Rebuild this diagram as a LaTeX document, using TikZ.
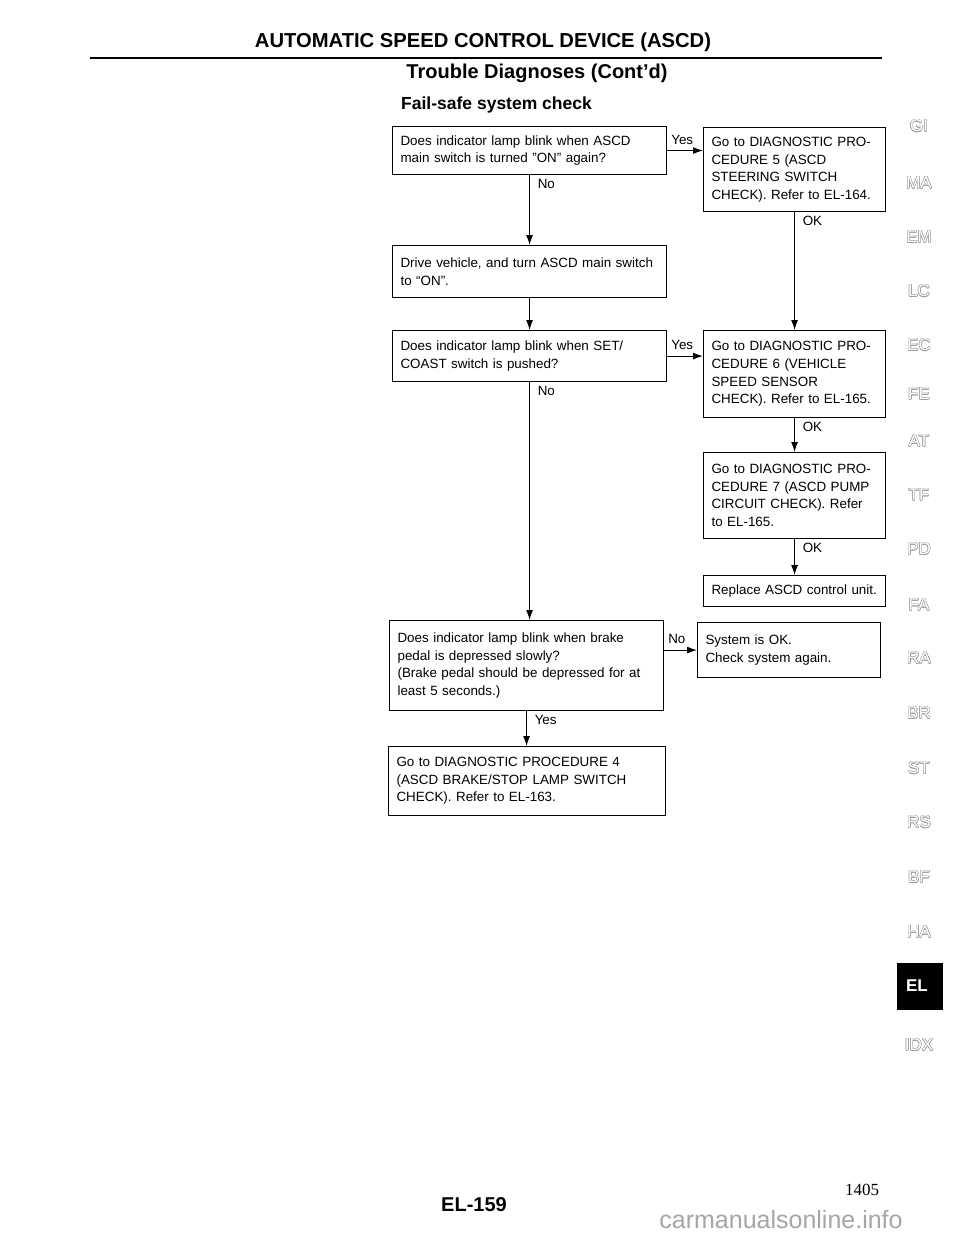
\documentclass[tikz,border=0pt]{standalone}
\usepackage{fontspec}
\setmainfont{Liberation Sans}
\newfontfamily\serifnum{Liberation Serif}
\usepackage[copies]{contour}
\contourlength{0.45pt}
\usetikzlibrary{arrows.meta}
\newcommand{\tabtxt}[1]{{\color{white}\contour{gray!75}{#1}}}
\begin{document}
\begin{tikzpicture}[x=1pt,y=-1pt,
  box/.style={draw, line width=1.1pt, inner xsep=8pt, inner ysep=2pt, align=left, anchor=north west,
    font=\fontsize{13.4}{17.6}\selectfont},
  lbl/.style={font=\fontsize{13.4}{15}\selectfont, inner sep=1pt},
  arr/.style={line width=1.1pt, -{Latex[length=10pt,width=7pt]}},
  tab/.style={font=\fontsize{17}{17}\selectfont, inner sep=0pt}
]
\useasboundingbox (0,0) rectangle (960,1242);
\fill[white] (0,0) rectangle (960,1242);

% header
\node[font=\fontsize{20.2}{22}\selectfont\bfseries, inner sep=0pt] (title) at (483,42) {AUTOMATIC SPEED CONTROL DEVICE (ASCD)};
\coordinate (ruleL) at (90,58);
\coordinate (ruleR) at (882,58);
\draw[line width=2.6pt] (ruleL) -- (ruleR);
\node[font=\fontsize{20}{22}\selectfont\bfseries, inner sep=0pt] (sub) at (537,73) {Trouble Diagnoses (Cont'd)};
\node[font=\fontsize{17.5}{20}\selectfont\bfseries, inner sep=0pt, anchor=west] (fs) at (401,105) {Fail-safe system check};

% boxes
\node[box, text width=258pt, minimum height=48pt] (b1) at (392,126)
  {Does indicator lamp blink when ASCD\\main switch is turned "ON" again?};
\node[box, text width=166pt, minimum height=84pt] (b2) at (703,127)
  {Go to DIAGNOSTIC PRO-\\CEDURE 5 (ASCD\\STEERING SWITCH\\CHECK). Refer to EL-164.};
\node[box, text width=258pt, minimum height=52pt] (b3) at (392,245)
  {Drive vehicle, and turn ASCD main switch\\to “ON”.};
\node[box, text width=258pt, minimum height=51pt] (b4) at (392,330)
  {Does indicator lamp blink when SET/\\COAST switch is pushed?};
\node[box, text width=166pt, minimum height=87pt] (b5) at (703,330)
  {Go to DIAGNOSTIC PRO-\\CEDURE 6 (VEHICLE\\SPEED SENSOR\\CHECK). Refer to EL-165.};
\node[box, text width=166pt, minimum height=86pt] (b6) at (703,452)
  {Go to DIAGNOSTIC PRO-\\CEDURE 7 (ASCD PUMP\\CIRCUIT CHECK). Refer\\to EL-165.};
\node[box, text width=166pt, minimum height=31pt] (b7) at (703,575)
  {Replace ASCD control unit.};
\node[box, text width=258pt, minimum height=90pt] (b8) at (389,620)
  {Does indicator lamp blink when brake\\pedal is depressed slowly?\\(Brake pedal should be depressed for at\\least 5 seconds.)};
\node[box, text width=167pt, minimum height=55pt] (b9) at (697,622)
  {System is OK.\\Check system again.};
\node[box, text width=261pt, minimum height=69pt] (b10) at (388,746)
  {Go to DIAGNOSTIC PROCEDURE 4\\(ASCD BRAKE/STOP LAMP SWITCH\\CHECK). Refer to EL-163.};

% connectors
\draw[arr] (b1.east) -- (b2.west |- b1.east);
\draw[arr] (b1.south) -- (b3.north);
\draw[arr] (b3.south) -- (b4.north);
\draw[arr] (b4.east) -- (b5.west |- b4.east);
\draw[arr] (b2.south) -- (b5.north);
\draw[arr] (b5.south) -- (b6.north);
\draw[arr] (b6.south) -- (b7.north);
\draw[arr] (b4.south) -- (b4.south |- b8.north);
\draw[arr] (b8.east |- b9.west) -- (b9.west);
\draw[arr] (b8.south) -- (b8.south |- b10.north);

% connector labels
\node[lbl, anchor=south west] (l1) at ([xshift=3pt,yshift=5pt]b1.east) {Yes};
\node[lbl, anchor=north west] (l2) at ([xshift=7pt,yshift=-3pt]b1.south) {No};
\node[lbl, anchor=north west] (l3) at ([xshift=7pt,yshift=-3pt]b2.south) {OK};
\node[lbl, anchor=south west] (l4) at ([xshift=3pt,yshift=5pt]b4.east) {Yes};
\node[lbl, anchor=north west] (l5) at ([xshift=7pt,yshift=-3pt]b4.south) {No};
\node[lbl, anchor=north west] (l6) at ([xshift=7pt,yshift=-3pt]b5.south) {OK};
\node[lbl, anchor=north west] (l7) at ([xshift=7pt,yshift=-3pt]b6.south) {OK};
\node[lbl, anchor=south west] (l8) at ([xshift=3pt,yshift=5pt]b8.east |- b9.west) {No};
\node[lbl, anchor=north west] (l9) at ([xshift=7pt,yshift=-3pt]b8.south) {Yes};

% side tabs
\node[tab] (tGI) at (919,126) {\tabtxt{GI}};
\node[tab] (tMA) at (919,183) {\tabtxt{MA}};
\node[tab] (tEM) at (919,237) {\tabtxt{EM}};
\node[tab] (tLC) at (919,291) {\tabtxt{LC}};
\node[tab] (tEC) at (919,345) {\tabtxt{EC}};
\node[tab] (tFE) at (919,394) {\tabtxt{FE}};
\node[tab] (tAT) at (919,441) {\tabtxt{AT}};
\node[tab] (tTF) at (919,495) {\tabtxt{TF}};
\node[tab] (tPD) at (919,549) {\tabtxt{PD}};
\node[tab] (tFA) at (919,605) {\tabtxt{FA}};
\node[tab] (tRA) at (919,658) {\tabtxt{RA}};
\node[tab] (tBR) at (919,713) {\tabtxt{BR}};
\node[tab] (tST) at (919,768) {\tabtxt{ST}};
\node[tab] (tRS) at (919,822) {\tabtxt{RS}};
\node[tab] (tBF) at (919,877) {\tabtxt{BF}};
\node[tab] (tHA) at (919,932) {\tabtxt{HA}};
\node[fill=black, minimum width=46pt, minimum height=47pt, inner sep=0pt] (tELbox) at (920,986) {};
\node[font=\fontsize{17}{17}\selectfont\bfseries, text=white, inner sep=0pt] (tEL) at (917,986) {EL};
\node[tab] (tIDX) at (919,1045) {\tabtxt{IDX}};

% footer
\node[font=\fontsize{20}{22}\selectfont\bfseries, inner sep=0pt] (pg) at (474,1205) {EL-159};
\node[font=\fontsize{17}{18}\selectfont\serifnum, inner sep=0pt] (num) at (862,1190) {1405};
\node[font=\fontsize{25}{26}\selectfont, text=gray!70, inner sep=0pt] (wm) at (781,1220) {carmanualsonline.info};
\end{tikzpicture}
\end{document}
